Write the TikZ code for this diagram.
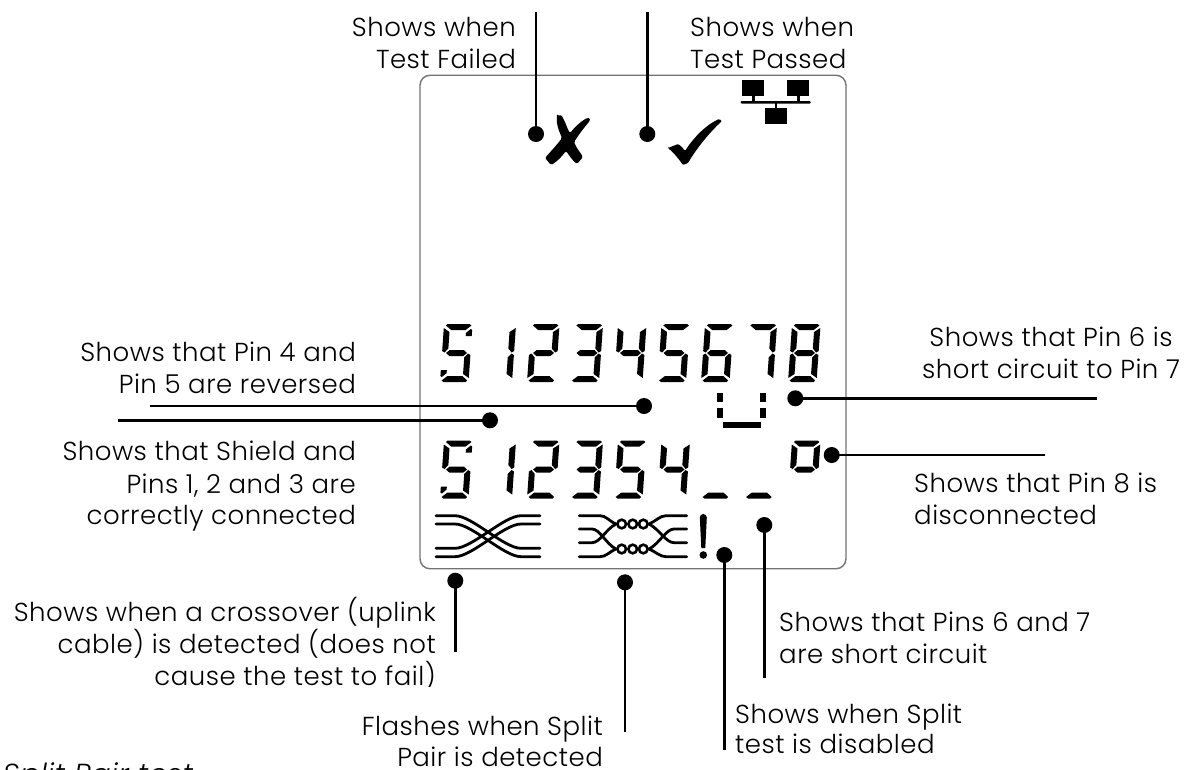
\documentclass[tikz,border=0pt]{standalone}
\usepackage{fontspec}
\setmainfont{Poppins}[UprightFont=* Light,ItalicFont=* Light Italic,LetterSpace=1.9]
\tikzset{
  dot/.style={circle,fill=black,inner sep=0pt,minimum size=16pt},
  lead/.style={line width=2.6pt,black},
  lbl/.style={inner sep=0pt,font=\fontsize{26}{32}\selectfont,text=black},
  wire/.style={line width=2.8pt,line cap=round,black}
}
\def\sega{\fill (3.5,58)--(25.5,58)--(27.5,56.5)--(22,52)--(7.5,52)--(2,56.5)--cycle;}
\def\segb{\fill (28.5,54)--(28.5,31)--(26,29.5)--(22.5,33.5)--(22.5,50)--cycle;}
\def\segc{\fill (28.5,27)--(28.5,4)--(22.5,8)--(22.5,24.5)--(26,28.5)--cycle;}
\def\segd{\fill (3.5,0)--(25.5,0)--(27,1.5)--(22,6)--(7,6)--(1.5,1.5)--cycle;}
\def\sege{\fill (0,27)--(0,4)--(6,8)--(6,24.5)--(2.5,28.5)--cycle;}
\def\segf{\fill (0,54)--(0,31)--(2.5,29.5)--(6,33.5)--(6,50)--cycle;}
\def\segg{\fill (4,29)--(7.5,32)--(21.5,32)--(25,29)--(21.5,26)--(7.5,26)--cycle;}
\def\segp{\fill (28.5,46)--(22.5,46)--(22.5,49)--(27,53)--(28.5,52)--cycle;}
\def\segq{\fill (0,12)--(6,12)--(6,9)--(1.5,5)--(0,6)--cycle;}
\newcommand\lcd[3]{\begin{scope}[shift={(#1,#2)},x=1pt,y=1pt,xslant=0.07]
  \foreach \s in {#3}{\csname seg\s\endcsname}\end{scope}}
\begin{document}
\begin{tikzpicture}[x=1pt,y=-1pt]
\useasboundingbox (0,0) rectangle (1193,769);
\clip (0,0) rectangle (1193,769);
\fill[white] (0,0) rectangle (1193,769);
% display
\node[draw=black!55,line width=1.4pt,rounded corners=10pt,minimum width=426pt,minimum height=493.5pt,inner sep=0pt] (screen) at (633,322) {};
% digits top
\lcd{440}{382}{a,f,g,c,d,p,q}
\lcd{483.5}{382}{b,c}
\lcd{527}{382}{a,b,g,e,d}
\lcd{570.5}{382}{a,b,g,c,d}
\lcd{614}{382}{f,g,b,c}
\lcd{657.5}{382}{a,f,g,c,d}
\lcd{701}{382}{a,f,e,g,c,d}
\lcd{744.5}{382}{a,b,c}
\lcd{788}{382}{a,b,c,d,e,f,g}
% digits bottom
\lcd{440}{498.5}{a,f,g,c,d,p,q}
\lcd{483.5}{498.5}{b,c}
\lcd{527}{498.5}{a,b,g,e,d}
\lcd{570.5}{498.5}{a,b,g,c,d}
\lcd{614}{498.5}{a,f,g,c,d}
\lcd{657.5}{498.5}{f,g,b,c}
\lcd{701}{498.5}{d}
\lcd{744.5}{498.5}{d}
\lcd{788}{498.5}{a,f,b,g}
% U mark
\fill (716.7,392.7) rectangle (722.7,402);
\fill (716.7,408.3) rectangle (722.7,418.3);
\fill (760,392.7) rectangle (766,402);
\fill (760,408.3) rectangle (766,418.3);
\fill (722.7,422) rectangle (760.7,428);
% network icon
\fill (742.3,80) rectangle (764,95.7);
\fill (787.3,80) rectangle (809.3,95.7);
\fill (765,108.3) rectangle (786.7,124);
\fill[rounded corners=1pt] (740.7,101) rectangle (810.7,103.6);
\fill (752.3,95) rectangle (754.6,102);
\fill (797.2,95) rectangle (799.5,102);
\fill (774.6,102) rectangle (776.9,109);
% cross
\fill[rounded corners=1.5pt] (557,116) .. controls (562,114) and (563,118) .. (565,122) .. controls (567,127) and (568,130) .. (570,133)
  .. controls (575,127) and (580,122) .. (587,118) .. controls (590,118) and (590,120) .. (589,122) .. controls (582,130) and (578,136) .. (574,142)
  .. controls (577,149) and (580,152) .. (583,157) -- (577,164) .. controls (572,160) and (569,155) .. (566,151)
  .. controls (562,156) and (558,161) .. (551,165) -- (545,158) .. controls (551,151) and (556,146) .. (562,138)
  .. controls (559,131) and (556,124) .. cycle;
% tick
\fill[rounded corners=1pt] (668,148) -- (678,144) .. controls (681,146) and (683,148) .. (685,151) .. controls (694,137) and (706,125) .. (719,119) -- (722,121)
  .. controls (712,130) and (698,146) .. (688,163) -- (683,165) .. controls (678,158) and (674,153) .. cycle;
% crossover icon
\draw[wire] (436,515.7) -- (455,515.7) .. controls (472,515.7) and (504,548.3) .. (521,548.3) -- (540,548.3);
\draw[wire] (436,524) -- (455,524) .. controls (472,524) and (504,556.7) .. (521,556.7) -- (540,556.7);
\draw[wire] (436,556.7) -- (455,556.7) .. controls (472,556.7) and (504,524) .. (521,524) -- (540,524);
\draw[wire] (436,548.3) -- (455,548.3) .. controls (472,548.3) and (504,515.7) .. (521,515.7) -- (540,515.7);
% split pair icon
\draw[wire] (579.3,515.7) -- (600,515.7) .. controls (606,515.7) and (609,521) .. (616,524);
\draw[wire] (579.3,556.7) -- (600,556.7) .. controls (606,556.7) and (609,552) .. (616,549);
\draw[wire] (579.3,529) -- (592,529) .. controls (600,529) and (606,544) .. (616,549);
\draw[wire] (579.3,542.7) -- (592,542.7) .. controls (600,542.7) and (606,529) .. (616,524);
\draw[wire] (686.7,515.7) -- (666,515.7) .. controls (660,515.7) and (656,521) .. (649,524);
\draw[wire] (686.7,556.7) -- (666,556.7) .. controls (660,556.7) and (656,552) .. (649,549);
\draw[wire] (686.7,529) -- (674,529) .. controls (666,529) and (659,544) .. (649,549);
\draw[wire] (686.7,542.7) -- (674,542.7) .. controls (666,542.7) and (659,529) .. (649,524);
\foreach \cx in {621.7,632.7,643.3}{
  \draw[line width=2.6pt] (\cx,524) circle[radius=4.3pt];
  \draw[line width=2.6pt] (\cx,549) circle[radius=4.3pt];
}
% exclamation
\fill (699.8,517.5) arc[start angle=180,end angle=0,radius=3.5pt] -- (705.3,548) -- (701.3,548) -- cycle;
\fill (703.3,555) circle[radius=3.8pt];
% dots
\node[dot] (dFail) at (536,134) {};
\node[dot] (dPass) at (647.3,134) {};
\node[dot] (dRev) at (644,406) {};
\node[dot] (dShield) at (490,420.3) {};
\node[dot] (dShort) at (795.3,398.3) {};
\node[dot] (dDisc) at (831.7,455) {};
\node[dot] (dCross) at (455.3,580.7) {};
\node[dot] (dSplit) at (625,582.3) {};
\node[dot] (dDisab) at (724.3,555) {};
\node[dot] (dPins) at (764.3,525) {};
\coordinate (eFail) at (536,12);
\coordinate (ePass) at (647.3,12);
\coordinate (eRev) at (150,406);
\coordinate (eShield) at (118,420.3);
\coordinate (eShort) at (1097,398.3);
\coordinate (eDisc) at (1045,455);
\coordinate (eCross) at (455.3,652);
\coordinate (eSplit) at (625,732);
\coordinate (eDisab) at (724.3,749.5);
\coordinate (ePins) at (764.3,678);
\foreach \a/\b in {eFail/dFail,ePass/dPass,eRev/dRev,eShield/dShield,eShort/dShort,eDisc/dDisc,eCross/dCross,eSplit/dSplit,eDisab/dDisab,ePins/dPins}
  \draw[lead] (\a) -- (\b.center);
% labels
\node[lbl,anchor=base east] (t1a) at (516,36) {Shows when};
\node[lbl,anchor=base east] (t1b) at (516,68) {Test Failed};
\node[lbl,anchor=base west] (t2a) at (690,36) {Shows when};
\node[lbl,anchor=base west] (t2b) at (690,68) {Test Passed};
\node[lbl,anchor=base east] (t3a) at (356,361.5) {Shows that Pin 4 and};
\node[lbl,anchor=base east] (t3b) at (356,393) {Pin 5 are reversed};
\node[lbl,anchor=base east] (t4a) at (356,460.7) {Shows that Shield and};
\node[lbl,anchor=base east] (t4b) at (356,493) {Pins 1, 2 and 3 are};
\node[lbl,anchor=base east] (t4c) at (356,524.7) {correctly connected};
\node[lbl,anchor=base] (t5a) at (1051,346) {Shows that Pin 6 is};
\node[lbl,anchor=base] (t5b) at (1051,378) {short circuit to Pin 7};
\node[lbl,anchor=base west] (t6a) at (914,492) {Shows that Pin 8 is};
\node[lbl,anchor=base west] (t6b) at (914,524) {disconnected};
\node[lbl,anchor=base west] (t7a) at (779,631) {Shows that Pins 6 and 7};
\node[lbl,anchor=base west] (t7b) at (779,663) {are short circuit};
\node[lbl,anchor=base west] (t8a) at (735,723) {Shows when Split};
\node[lbl,anchor=base west] (t8b) at (735,753) {test is disabled};
\node[lbl,anchor=base east] (t9a) at (436,621) {Shows when a crossover (uplink};
\node[lbl,anchor=base east] (t9b) at (436,653) {cable) is detected (does not};
\begin{scope}
\clip (100,660) rectangle (440,686);
\node[lbl,anchor=base east] (t9c) at (436,685) {cause the test to fail)};
\end{scope}
\node[lbl,anchor=base east] (t10a) at (603,735) {Flashes when Split};
\node[lbl,anchor=base east] (t10b) at (603,766) {Pair is detected};
\node[lbl,anchor=base west,font=\fontsize{29}{32}\selectfont\itshape] (t11) at (3,784) {Split Pair test};
\end{tikzpicture}
\end{document}
